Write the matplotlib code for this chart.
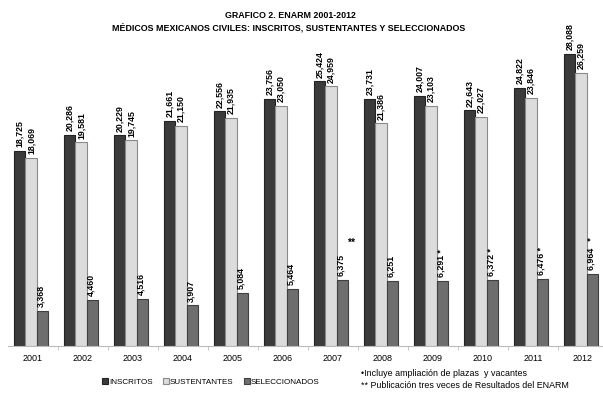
import matplotlib.pyplot as plt
import numpy as np

years = ["2001", "2002", "2003", "2004", "2005", "2006",
         "2007", "2008", "2009", "2010", "2011", "2012"]
inscritos = [18725, 20286, 20229, 21661, 22556, 23756,
             25424, 23731, 24007, 22643, 24822, 28088]
sustentantes = [18069, 19581, 19745, 21150, 21935, 23050,
                24959, 21386, 23103, 22027, 23846, 26259]
seleccionados = [3368, 4460, 4516, 3907, 5084, 5464,
                 6375, 6251, 6291, 6372, 6476, 6964]
marcas = ["", "", "", "", "", "", "**", "", "*", "*", "*", "*"]

names = ["INSCRITOS", "SUSTENTANTES", "SELECCIONADOS"]
colors = ["#3b3b3b", "#dcdcdc", "#6e6e6e"]
edges = ["#222222", "#8a8a8a", "#3f3f3f"]

plt.rcParams["font.family"] = ["Liberation Sans", "DejaVu Sans"]

fig = plt.figure(figsize=(6.03, 3.93), dpi=100)
ax = fig.add_axes([8 / 603, 47 / 393, 600 / 603, 306 / 393])

x = np.arange(len(years))
w = 0.23
series = [inscritos, sustentantes, seleccionados]
offsets = [-0.27, -0.04, 0.19]
for vals, off, c, ec, name in zip(series, offsets, colors, edges, names):
    ax.bar(x + off, vals, w, color=c, edgecolor=ec, linewidth=0.8, label=name)

pad = 350
for i in x:
    ax.text(i + offsets[0], inscritos[i] + pad, f"{inscritos[i]:,}", rotation=90,
            ha="center", va="bottom", fontsize=6.3, fontweight="bold")
    ax.text(i + offsets[1], sustentantes[i] + pad, f"{sustentantes[i]:,}", rotation=90,
            ha="center", va="bottom", fontsize=6.3, fontweight="bold")
    lab = f"{seleccionados[i]:,}"
    if marcas[i] == "*":
        lab = lab + "   *" if i == 11 else lab + " *"
    ax.text(i + offsets[2] - 0.03, seleccionados[i] + pad, lab, rotation=90,
            ha="center", va="bottom", fontsize=6.3, fontweight="bold")
    if marcas[i] == "**":
        ax.text(i + offsets[2] + 0.17, seleccionados[i] + 3500, "**",
                ha="center", va="center", fontsize=7.5, fontweight="bold")

ax.set_xlim(-0.5, len(years) - 0.5)
ax.set_ylim(0, 29400)
ax.set_yticks([])
ax.set_xticks(x)
ax.set_xticklabels(years, fontsize=6.5)
ax.set_xticks(np.arange(0.5, len(years) - 1, 1), minor=True)
ax.tick_params(axis="x", which="major", length=0, pad=6)
ax.tick_params(axis="x", which="minor", length=3, color="#bbbbbb")
for s in ["top", "right", "left"]:
    ax.spines[s].set_visible(False)
ax.spines["bottom"].set_color("#bbbbbb")

fig.text(290 / 603, 1 - 15 / 393, "GRAFICO 2. ENARM 2001-2012", ha="center", va="center",
         fontsize=6.4, fontweight="bold")
fig.text(289 / 603, 1 - 28 / 393,
         "MÉDICOS MEXICANOS CIVILES: INSCRITOS, SUSTENTANTES Y SELECCIONADOS",
         ha="center", va="center", fontsize=6.4, fontweight="bold")

fig.legend(loc="center", bbox_to_anchor=(211 / 603, 1 - 382 / 393), ncol=3,
           frameon=False, fontsize=5.8, handlelength=0.7, handleheight=0.7,
           handletextpad=0.15, columnspacing=1.3)

fig.text(361 / 603, 1 - 373 / 393, "•Incluye ampliación de plazas  y vacantes",
         ha="left", va="center", fontsize=6.4)
fig.text(361 / 603, 1 - 386 / 393, "** Publicación tres veces de Resultados del ENARM",
         ha="left", va="center", fontsize=6.4)

fig.savefig("out.png", dpi=100)
